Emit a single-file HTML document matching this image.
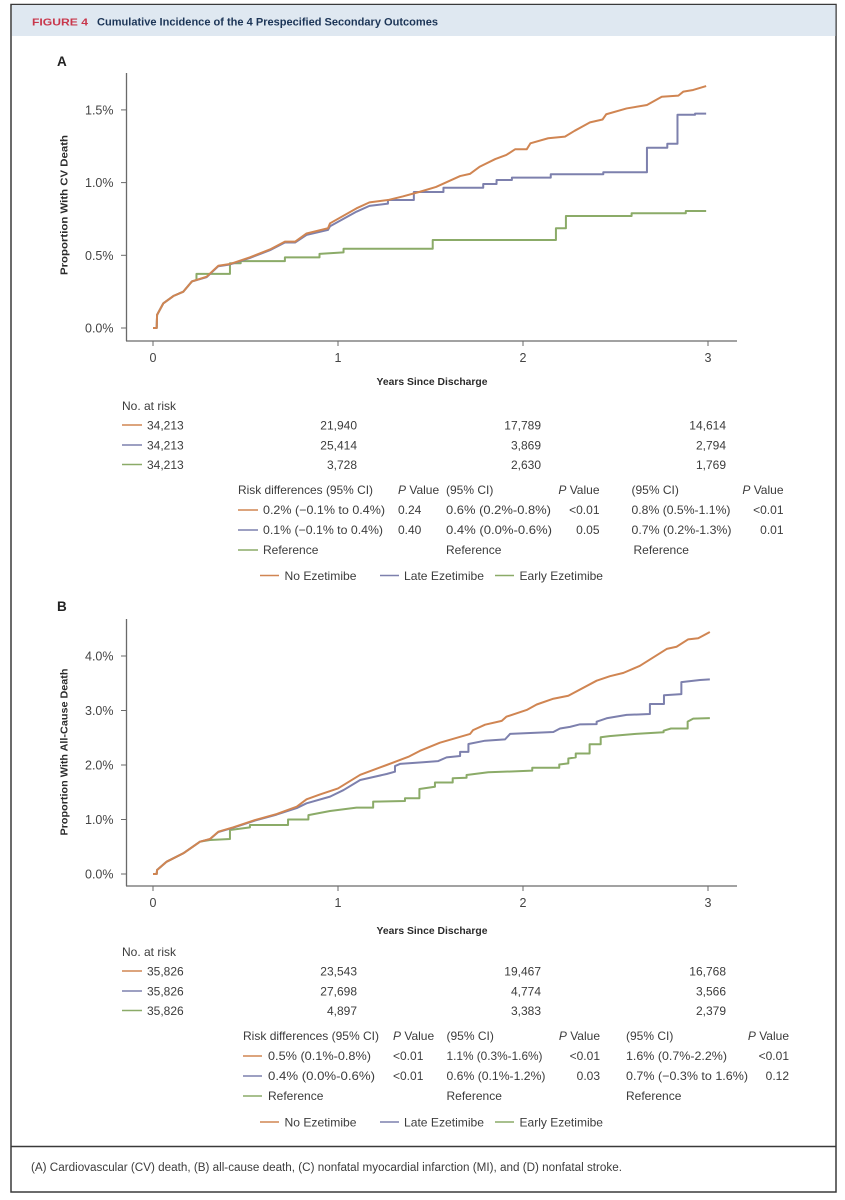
<!DOCTYPE html>
<html lang="en">
<head>
<meta charset="utf-8">
<title>Figure 4 Cumulative Incidence of the 4 Prespecified Secondary Outcomes</title>
<style>
html,body{margin:0;padding:0;background:#fff;width:845px;height:1200px;overflow:hidden}
svg{display:block;font-family:"Liberation Sans",sans-serif}
text{fill:#3c3c3c;font-size:12px}
.r{text-anchor:end}
.b{font-weight:bold;fill:#2b2b2b;font-size:10.5px}
.i{font-style:italic}
.tick{font-size:12.5px;fill:#444}
</style>
</head>
<body>
<svg id="figure" width="845" height="1200" viewBox="0 0 845 1200" xmlns="http://www.w3.org/2000/svg">
  <rect x="11" y="4.5" width="825" height="1187.5" fill="#fff" stroke="#3a3a3a" stroke-width="1.5"/>
  <rect x="12" y="5" width="823.5" height="31" fill="#dfe8f1"/>
  <text x="32" y="25.5" textLength="56" lengthAdjust="spacingAndGlyphs" style="font-size:10.5px;font-weight:bold;fill:#c8374c">FIGURE 4</text>
  <text x="97" y="25.5" textLength="341" lengthAdjust="spacingAndGlyphs" style="font-size:11px;font-weight:bold;fill:#1c3557">Cumulative Incidence of the 4 Prespecified Secondary Outcomes</text>

  <text x="57" y="66" style="font-size:13.5px;font-weight:bold;fill:#222">A</text>
  <text x="57" y="611" style="font-size:13.5px;font-weight:bold;fill:#222">B</text>

  <text class="b" transform="translate(67.5,205) rotate(-90)" text-anchor="middle" textLength="140" lengthAdjust="spacingAndGlyphs">Proportion With CV Death</text>
  <text class="b" transform="translate(67.5,752) rotate(-90)" text-anchor="middle" textLength="167" lengthAdjust="spacingAndGlyphs">Proportion With All-Cause Death</text>
  <text class="b" x="432" y="385" text-anchor="middle" textLength="111" lengthAdjust="spacingAndGlyphs">Years Since Discharge</text>
  <text class="b" x="432" y="934" text-anchor="middle" textLength="111" lengthAdjust="spacingAndGlyphs">Years Since Discharge</text>

  <g id="plotA"></g>
  <g id="plotB"></g>

  <!-- Panel A number at risk -->
  <g>
    <text x="122" y="410">No. at risk</text>
    <line x1="122" x2="142" y1="425" y2="425" stroke="#d08552" stroke-width="1.6"/>
    <line x1="122" x2="142" y1="445" y2="445" stroke="#7d80ad" stroke-width="1.6"/>
    <line x1="122" x2="142" y1="464.5" y2="464.5" stroke="#8bab68" stroke-width="1.6"/>
    <text x="147" y="429.5">34,213</text>
    <text x="147" y="449.5">34,213</text>
    <text x="147" y="469">34,213</text>
    <text class="r" x="357" y="429.5">21,940</text>
    <text class="r" x="357" y="449.5">25,414</text>
    <text class="r" x="357" y="469">3,728</text>
    <text class="r" x="541" y="429.5">17,789</text>
    <text class="r" x="541" y="449.5">3,869</text>
    <text class="r" x="541" y="469">2,630</text>
    <text class="r" x="726" y="429.5">14,614</text>
    <text class="r" x="726" y="449.5">2,794</text>
    <text class="r" x="726" y="469">1,769</text>
  </g>

  <!-- Panel A risk differences -->
  <g>
    <text x="238" y="494" textLength="135" lengthAdjust="spacingAndGlyphs">Risk differences (95% CI)</text>
    <text x="398" y="494"><tspan class="i">P</tspan> Value</text>
    <text x="446" y="494">(95% CI)</text>
    <text class="r" x="599.5" y="494"><tspan class="i">P</tspan> Value</text>
    <text x="631.5" y="494">(95% CI)</text>
    <text class="r" x="783.5" y="494"><tspan class="i">P</tspan> Value</text>
    <line x1="238" x2="258" y1="510" y2="510" stroke="#d08552" stroke-width="1.6"/>
    <line x1="238" x2="258" y1="530" y2="530" stroke="#7d80ad" stroke-width="1.6"/>
    <line x1="238" x2="258" y1="550" y2="550" stroke="#8bab68" stroke-width="1.6"/>
    <text x="263" y="514" textLength="122" lengthAdjust="spacingAndGlyphs">0.2% (−0.1% to 0.4%)</text>
    <text x="263" y="534" textLength="120" lengthAdjust="spacingAndGlyphs">0.1% (−0.1% to 0.4%)</text>
    <text x="263" y="554">Reference</text>
    <text x="398" y="514">0.24</text>
    <text x="398" y="534">0.40</text>
    <text x="446" y="514" textLength="105" lengthAdjust="spacingAndGlyphs">0.6% (0.2%-0.8%)</text>
    <text x="446" y="534" textLength="106" lengthAdjust="spacingAndGlyphs">0.4% (0.0%-0.6%)</text>
    <text x="446" y="554">Reference</text>
    <text class="r" x="599.5" y="514">&lt;0.01</text>
    <text class="r" x="599.5" y="534">0.05</text>
    <text x="631.5" y="514" textLength="99" lengthAdjust="spacingAndGlyphs">0.8% (0.5%-1.1%)</text>
    <text x="631.5" y="534" textLength="100" lengthAdjust="spacingAndGlyphs">0.7% (0.2%-1.3%)</text>
    <text x="633.5" y="554">Reference</text>
    <text class="r" x="783.5" y="514">&lt;0.01</text>
    <text class="r" x="783.5" y="534">0.01</text>
  </g>

  <!-- Panel A legend -->
  <g>
    <line x1="260" x2="279" y1="575.5" y2="575.5" stroke="#d08552" stroke-width="1.6"/>
    <text x="284.5" y="580" textLength="72" lengthAdjust="spacingAndGlyphs">No Ezetimibe</text>
    <line x1="380" x2="399" y1="575.5" y2="575.5" stroke="#7d80ad" stroke-width="1.6"/>
    <text x="404" y="580" textLength="80" lengthAdjust="spacingAndGlyphs">Late Ezetimibe</text>
    <line x1="495" x2="514" y1="575.5" y2="575.5" stroke="#8bab68" stroke-width="1.6"/>
    <text x="519.5" y="580" textLength="83.5" lengthAdjust="spacingAndGlyphs">Early Ezetimibe</text>
  </g>

  <!-- Panel B number at risk -->
  <g>
    <text x="122" y="956">No. at risk</text>
    <line x1="122" x2="142" y1="971" y2="971" stroke="#d08552" stroke-width="1.6"/>
    <line x1="122" x2="142" y1="991" y2="991" stroke="#7d80ad" stroke-width="1.6"/>
    <line x1="122" x2="142" y1="1010.5" y2="1010.5" stroke="#8bab68" stroke-width="1.6"/>
    <text x="147" y="975.5">35,826</text>
    <text x="147" y="995.5">35,826</text>
    <text x="147" y="1015">35,826</text>
    <text class="r" x="357" y="975.5">23,543</text>
    <text class="r" x="357" y="995.5">27,698</text>
    <text class="r" x="357" y="1015">4,897</text>
    <text class="r" x="541" y="975.5">19,467</text>
    <text class="r" x="541" y="995.5">4,774</text>
    <text class="r" x="541" y="1015">3,383</text>
    <text class="r" x="726" y="975.5">16,768</text>
    <text class="r" x="726" y="995.5">3,566</text>
    <text class="r" x="726" y="1015">2,379</text>
  </g>

  <!-- Panel B risk differences -->
  <g>
    <text x="243" y="1040" textLength="136" lengthAdjust="spacingAndGlyphs">Risk differences (95% CI)</text>
    <text x="393" y="1040"><tspan class="i">P</tspan> Value</text>
    <text x="446.5" y="1040">(95% CI)</text>
    <text class="r" x="600" y="1040"><tspan class="i">P</tspan> Value</text>
    <text x="626" y="1040">(95% CI)</text>
    <text class="r" x="789" y="1040"><tspan class="i">P</tspan> Value</text>
    <line x1="243" x2="262" y1="1056" y2="1056" stroke="#d08552" stroke-width="1.6"/>
    <line x1="243" x2="262" y1="1076" y2="1076" stroke="#7d80ad" stroke-width="1.6"/>
    <line x1="243" x2="262" y1="1096" y2="1096" stroke="#8bab68" stroke-width="1.6"/>
    <text x="268" y="1060" textLength="103" lengthAdjust="spacingAndGlyphs">0.5% (0.1%-0.8%)</text>
    <text x="268" y="1080" textLength="107" lengthAdjust="spacingAndGlyphs">0.4% (0.0%-0.6%)</text>
    <text x="268" y="1100">Reference</text>
    <text x="393" y="1060">&lt;0.01</text>
    <text x="393" y="1080">&lt;0.01</text>
    <text x="446.5" y="1060" textLength="96" lengthAdjust="spacingAndGlyphs">1.1% (0.3%-1.6%)</text>
    <text x="446.5" y="1080" textLength="99" lengthAdjust="spacingAndGlyphs">0.6% (0.1%-1.2%)</text>
    <text x="446.5" y="1100">Reference</text>
    <text class="r" x="600" y="1060">&lt;0.01</text>
    <text class="r" x="600" y="1080">0.03</text>
    <text x="626" y="1060" textLength="101" lengthAdjust="spacingAndGlyphs">1.6% (0.7%-2.2%)</text>
    <text x="626" y="1080" textLength="122" lengthAdjust="spacingAndGlyphs">0.7% (−0.3% to 1.6%)</text>
    <text x="626" y="1100">Reference</text>
    <text class="r" x="789" y="1060">&lt;0.01</text>
    <text class="r" x="789" y="1080">0.12</text>
  </g>

  <!-- Panel B legend -->
  <g>
    <line x1="260" x2="279" y1="1122" y2="1122" stroke="#d08552" stroke-width="1.6"/>
    <text x="284.5" y="1126.5" textLength="72" lengthAdjust="spacingAndGlyphs">No Ezetimibe</text>
    <line x1="380" x2="399" y1="1122" y2="1122" stroke="#7d80ad" stroke-width="1.6"/>
    <text x="404" y="1126.5" textLength="80" lengthAdjust="spacingAndGlyphs">Late Ezetimibe</text>
    <line x1="495" x2="514" y1="1122" y2="1122" stroke="#8bab68" stroke-width="1.6"/>
    <text x="519.5" y="1126.5" textLength="83.5" lengthAdjust="spacingAndGlyphs">Early Ezetimibe</text>
  </g>

  <line x1="11" x2="836" y1="1146.5" y2="1146.5" stroke="#3a3a3a" stroke-width="1.5"/>
  <text x="31" y="1171" textLength="591" lengthAdjust="spacingAndGlyphs" style="font-size:11.5px">(A) Cardiovascular (CV) death, (B) all-cause death, (C) nonfatal myocardial infarction (MI), and (D) nonfatal stroke.</text>
</svg>

<script>
const xTickValues = [0, 1, 2, 3];
const xTickLabels = ["0", "1", "2", "3"];
const panelAYTickValues = [0, 0.5, 1, 1.5];
const panelAYTickLabels = ["0.0%", "0.5%", "1.0%", "1.5%"];
const panelBYTickValues = [0, 1, 2, 3, 4];
const panelBYTickLabels = ["0.0%", "1.0%", "2.0%", "3.0%", "4.0%"];
const seriesNames = ["early-ezetimibe", "late-ezetimibe", "no-ezetimibe"];

/* Each point: [years since discharge, cumulative incidence %]. Repeated years are vertical steps. */
const panelANoEzetimibe = [[0,0],[.02,0],[.022,.09],[.056,.17],[.11,.22],[.164,.25],[.21,.32],[.29,.353],[.353,.428],[.416,.44],[.524,.486],[.632,.54],[.713,.594],[.768,.594],[.83,.65],[.946,.686],[.957,.72],[1.10,.823],[1.17,.864],[1.27,.88],[1.35,.905],[1.443,.937],[1.53,.97],[1.66,1.045],[1.713,1.06],[1.767,1.11],[1.85,1.162],[1.91,1.19],[1.957,1.229],[2.02,1.229],[2.04,1.27],[2.136,1.305],[2.227,1.316],[2.28,1.357],[2.362,1.414],[2.43,1.434],[2.45,1.47],[2.56,1.51],[2.67,1.534],[2.75,1.59],[2.84,1.598],[2.867,1.626],[2.92,1.637],[2.99,1.664]];
const panelALateEzetimibe = [[0,0],[.02,0],[.022,.09],[.056,.17],[.11,.22],[.164,.25],[.21,.32],[.29,.35],[.353,.425],[.416,.437],[.524,.482],[.632,.535],[.713,.588],[.768,.588],[.83,.64],[.946,.675],[.957,.70],[1.10,.80],[1.17,.84],[1.27,.855],[1.27,.88],[1.41,.88],[1.41,.935],[1.57,.935],[1.57,.965],[1.785,.965],[1.785,.99],[1.857,.99],[1.857,1.018],[1.94,1.018],[1.94,1.034],[2.15,1.034],[2.15,1.057],[2.434,1.057],[2.434,1.071],[2.67,1.071],[2.67,1.24],[2.78,1.24],[2.78,1.267],[2.835,1.267],[2.835,1.467],[2.93,1.467],[2.93,1.474],[2.99,1.474]];
const panelAEarlyEzetimibe = [[0,0],[.02,0],[.022,.09],[.056,.17],[.11,.22],[.164,.25],[.21,.32],[.235,.33],[.235,.372],[.416,.372],[.416,.445],[.474,.445],[.474,.46],[.713,.46],[.713,.486],[.90,.486],[.90,.51],[1.03,.52],[1.03,.545],[1.512,.545],[1.512,.605],[2.178,.605],[2.178,.686],[2.232,.686],[2.232,.77],[2.587,.77],[2.587,.789],[2.88,.789],[2.88,.805],[2.99,.805]];

const panelBNoEzetimibe = [[0,0],[.02,0],[.022,.073],[.074,.226],[.164,.38],[.254,.593],[.308,.642],[.353,.776],[.434,.856],[.551,.99],[.668,1.10],[.777,1.235],[.83,1.37],[.903,1.46],[1.0,1.57],[1.12,1.82],[1.263,2.0],[1.38,2.15],[1.443,2.26],[1.551,2.41],[1.714,2.57],[1.73,2.64],[1.795,2.74],[1.885,2.81],[1.91,2.886],[2.02,3.01],[2.074,3.11],[2.164,3.216],[2.245,3.27],[2.398,3.547],[2.47,3.63],[2.543,3.69],[2.632,3.82],[2.777,4.13],[2.83,4.17],[2.893,4.306],[2.947,4.325],[3.01,4.44]];
const panelBLateEzetimibe = [[0,0],[.02,0],[.022,.073],[.074,.226],[.164,.38],[.254,.593],[.308,.64],[.353,.77],[.434,.85],[.551,.98],[.668,1.09],[.777,1.21],[.83,1.297],[.957,1.42],[1.03,1.54],[1.12,1.725],[1.263,1.835],[1.308,1.877],[1.308,1.98],[1.335,2.02],[1.46,2.05],[1.54,2.07],[1.587,2.14],[1.66,2.165],[1.66,2.24],[1.705,2.24],[1.705,2.385],[1.795,2.446],[1.903,2.47],[1.93,2.57],[2.164,2.606],[2.2,2.67],[2.254,2.70],[2.308,2.746],[2.398,2.75],[2.398,2.795],[2.452,2.857],[2.56,2.92],[2.686,2.935],[2.686,3.12],[2.762,3.12],[2.762,3.28],[2.856,3.30],[2.856,3.52],[2.957,3.56],[3.01,3.57]];
const panelBEarlyEzetimibe = [[0,0],[.02,0],[.022,.073],[.074,.226],[.164,.38],[.254,.593],[.308,.624],[.416,.642],[.416,.807],[.524,.856],[.524,.90],[.73,.90],[.73,1.0],[.84,1.0],[.84,1.08],[.957,1.156],[1.10,1.217],[1.19,1.217],[1.19,1.327],[1.362,1.34],[1.362,1.39],[1.44,1.39],[1.44,1.56],[1.524,1.60],[1.524,1.68],[1.62,1.68],[1.62,1.756],[1.695,1.767],[1.695,1.817],[1.812,1.866],[2.05,1.896],[2.05,1.95],[2.196,1.95],[2.196,2.01],[2.245,2.03],[2.245,2.12],[2.285,2.14],[2.285,2.21],[2.36,2.21],[2.36,2.38],[2.42,2.38],[2.42,2.51],[2.467,2.53],[2.61,2.57],[2.76,2.6],[2.76,2.63],[2.80,2.67],[2.89,2.67],[2.89,2.795],[2.92,2.85],[3.01,2.86]];

const seriesColors = ["#8bab68", "#7d80ad", "#d08552"];
const SVG_NS = "http://www.w3.org/2000/svg";

function axisX(t) { return 153 + t * 185; }
function axisYA(v) { return 328 - v * 145.4; }
function axisYB(v) { return 874 - v * 54.5; }

function make(tag, attrs, parent) {
  const el = document.createElementNS(SVG_NS, tag);
  for (const k in attrs) el.setAttribute(k, attrs[k]);
  parent.appendChild(el);
  return el;
}

function drawPanel(groupId, scaleY, axisTop, axisBottom, yVals, yLabels, seriesList) {
  const g = document.getElementById(groupId);

  const yAxis = make("line", {x1:126.5, x2:126.5, y1:axisTop, y2:axisBottom, stroke:"#6a6a6a", "stroke-width":1.3}, g);
  
  

  const xAxis = make("line", {x1:126, x2:737, y1:axisBottom, y2:axisBottom, stroke:"#6a6a6a", "stroke-width":1.3}, g);
  
  

  yVals.forEach(function (v, i) {
    const y = scaleY(v);
    const tick = make("line", {x1:121, x2:126.5, y1:y, y2:y, stroke:"#6a6a6a", "stroke-width":1}, g);
    
    
    const label = make("text", {x:113.5, y:y + 4.5, "text-anchor":"end", "class":"tick"}, g);
    
    
    label.textContent = yLabels[i];
  });

  xTickValues.forEach(function (t, i) {
    const x = axisX(t);
    const tick = make("line", {x1:x, x2:x, y1:axisBottom, y2:axisBottom + 5, stroke:"#6a6a6a", "stroke-width":1}, g);
    
    
    const label = make("text", {x:x, y:axisBottom + 21, "text-anchor":"middle", "class":"tick"}, g);
    
    
    label.textContent = xTickLabels[i];
  });

  seriesList.forEach(function (points, i) {
    const d = points.map(function (p, j) {
      return (j ? "L" : "M") + axisX(p[0]).toFixed(2) + " " + scaleY(p[1]).toFixed(2);
    }).join("");
    const path = make("path", {d:d, fill:"none", stroke:seriesColors[i], "stroke-width":2, "stroke-linejoin":"round"}, g);
    
    
  });
}

drawPanel("plotA", axisYA, 73, 341, panelAYTickValues, panelAYTickLabels,
  [panelAEarlyEzetimibe, panelALateEzetimibe, panelANoEzetimibe]);
drawPanel("plotB", axisYB, 619, 886, panelBYTickValues, panelBYTickLabels,
  [panelBEarlyEzetimibe, panelBLateEzetimibe, panelBNoEzetimibe]);
</script>
</body>
</html>
